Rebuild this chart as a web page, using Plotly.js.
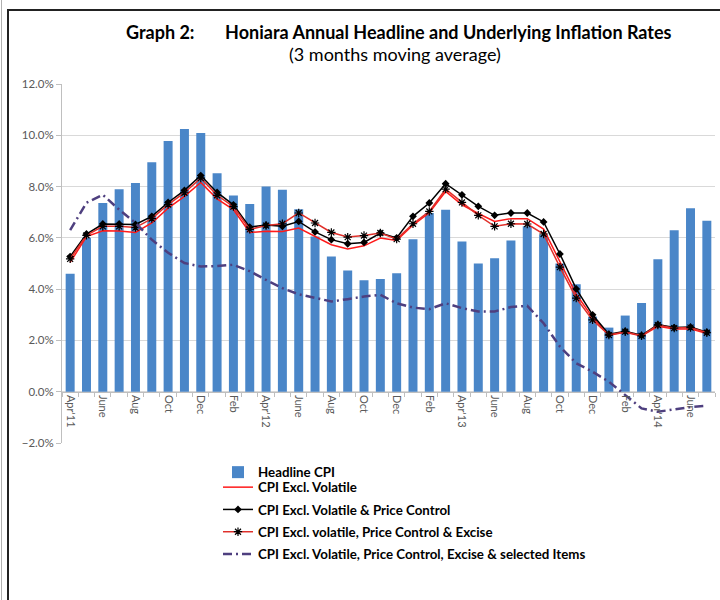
<!DOCTYPE html>
<html><head><meta charset="utf-8">
<script src="https://cdn.plot.ly/plotly-3.0.1.min.js"></script>
<style>
html,body{margin:0;padding:0;background:#fff;}
#wrap{position:relative;width:720px;height:600px;overflow:hidden;}
#chart{position:absolute;left:0;top:0;width:720px;height:600px;}
#b1{position:absolute;left:1px;top:0;width:1px;height:600px;background:#b0b0b0;pointer-events:none;}
#b2{position:absolute;left:7px;top:9px;width:713px;height:591px;border-left:2px solid #222;border-top:2px solid #222;pointer-events:none;}
</style></head><body>
<div id="wrap"><div id="chart"></div><div id="b1"></div><div id="b2"></div></div>
<script>
const months = ["Apr'11","May'11","Jun'11","Jul'11","Aug'11","Sep'11","Oct'11","Nov'11","Dec'11","Jan'12","Feb'12","Mar'12","Apr'12","May'12","Jun'12","Jul'12","Aug'12","Sep'12","Oct'12","Nov'12","Dec'12","Jan'13","Feb'13","Mar'13","Apr'13","May'13","Jun'13","Jul'13","Aug'13","Sep'13","Oct'13","Nov'13","Dec'13","Jan'14","Feb'14","Mar'14","Apr'14","May'14","Jun'14","Jul'14"];
const tickLabels = ["Apr'11","","June","","Aug","","Oct","","Dec","","Feb","","Apr'12","","June","","Aug","","Oct","","Dec","","Feb","","Apr'13","","June","","Aug","","Oct","","Dec","","Feb","","Apr'14","","June",""];

const headlineCPI = [4.6,6.0,7.36,7.9,8.14,8.95,9.78,10.25,10.09,8.52,7.65,7.32,8.0,7.88,7.12,6.05,5.27,4.73,4.35,4.4,4.62,5.95,6.97,7.1,5.86,5.0,5.2,5.9,6.45,6.12,5.0,4.19,2.93,2.5,2.97,3.46,5.17,6.3,7.15,6.67];
const exclVolatile = [5.04,6.05,6.28,6.27,6.21,6.58,7.16,7.62,8.16,7.52,7.1,6.21,6.26,6.25,6.38,6.05,5.73,5.57,5.69,5.99,5.9,6.5,6.98,7.81,7.29,6.95,6.64,6.75,6.75,6.34,5.05,3.8,2.9,2.2,2.32,2.17,2.55,2.45,2.45,2.27];
const exclVolPC = [5.27,6.15,6.54,6.54,6.52,6.84,7.38,7.85,8.43,7.77,7.29,6.42,6.5,6.45,6.64,6.23,5.93,5.77,5.82,6.19,6.0,6.84,7.36,8.11,7.68,7.23,6.88,6.97,6.97,6.62,5.37,4.01,3.0,2.24,2.36,2.2,2.62,2.5,2.52,2.32];
const exclVolPCExcise = [5.18,6.1,6.45,6.45,6.4,6.75,7.3,7.76,8.33,7.66,7.22,6.33,6.48,6.55,6.97,6.58,6.21,6.03,6.09,6.19,5.95,6.55,7.03,7.9,7.38,6.88,6.45,6.55,6.54,6.15,4.86,3.65,2.8,2.21,2.34,2.18,2.6,2.48,2.5,2.3];
const exclSelected = [6.3,7.37,7.68,7.1,6.58,5.93,5.42,5.02,4.88,4.9,4.95,4.7,4.36,4.04,3.8,3.65,3.52,3.61,3.71,3.78,3.45,3.28,3.22,3.45,3.26,3.13,3.13,3.3,3.35,2.67,1.76,1.11,0.78,0.39,-0.13,-0.65,-0.78,-0.7,-0.6,-0.55];

const FONT = 'Lato, "Noto Sans", sans-serif';
const legFont = {family: FONT, size: 13.3, color: '#000', weight: 'bold'};
// pixel helpers for paper coords (plot area: x 62..715, y 84..443)
const L = 62, T = 84, W = 653, H = 359;
const px = v => (v - L) / W;
const py = v => (T + H - v) / H;

const traces = [
  {type:'bar', x: months, y: headlineCPI, name:'Headline CPI', marker:{color:'#4a86c8'}, legend:'legend'},
  {type:'scatter', mode:'lines', x: months, y: exclVolatile, name:'CPI Excl. Volatile', line:{color:'#ff1a1a', width:1.5}, legend:'legend2', legendgroup:'a'},
  {type:'scatter', mode:'lines+markers', x: months, y: exclVolPC, name:'CPI Excl. Volatile & Price Control', line:{color:'#000', width:1.5}, marker:{symbol:'diamond', size:6, color:'#000'}, legend:'legend2', legendgroup:'b'},
  {type:'scatter', mode:'lines+markers', x: months, y: exclVolPCExcise, name:'CPI Excl. volatile, Price Control & Excise', line:{color:'#e0302a', width:1.5}, marker:{symbol:'asterisk-open', size:7, color:'#000', line:{color:'#000', width:1.2}}, legend:'legend2', legendgroup:'c'},
  {type:'scatter', mode:'lines', x: months, y: exclSelected, name:'CPI Excl. Volatile, Price Control, Excise & selected Items', line:{color:'#4e3f7f', width:2.5, dash:'9px,4px,2px,4px'}, legend:'legend2', legendgroup:'d'}
];

const layout = {
  width:720, height:600,
  margin:{l:L, r:720-L-W, t:T, b:600-T-H, autoexpand:false},
  paper_bgcolor:'#fff', plot_bgcolor:'#fff',
  font:{family: FONT},
  bargap:0.45,
  showlegend:true,
  xaxis:{type:'category', range:[-0.5, months.length-0.5], anchor:'free', position:2/14, automargin:false, showline:true, linecolor:'#bfbfbf', linewidth:1,
    ticks:'outside', ticklen:4, tickcolor:'#bfbfbf', tickson:'boundaries', tickangle:90,
    tickmode:'array', tickvals: months, ticktext: tickLabels,
    tickfont:{family: FONT, size:11, color:'#595959'}, showgrid:false},
  yaxis:{range:[-2,12], dtick:2, tick0:0, ticksuffix:'%', tickformat:'.1f', automargin:false, showgrid:true, gridcolor:'#d9d9d9', gridwidth:1,
    showline:true, linecolor:'#bfbfbf', ticks:'outside', ticklen:5, tickcolor:'#bfbfbf', zeroline:false,
    tickfont:{family: FONT, size:11.5, color:'#595959'}},
  legend:{x:px(218), y:py(457), xanchor:'left', yanchor:'top', font:legFont, bgcolor:'rgba(0,0,0,0)', itemwidth:30},
  legend2:{x:px(218), y:py(472), xanchor:'left', yanchor:'top', font:legFont, bgcolor:'rgba(0,0,0,0)', itemwidth:30, tracegroupgap:2},
  annotations:[
    {xref:'paper', yref:'paper', x:px(399), y:py(32), xanchor:'center', yanchor:'middle', showarrow:false,
     text:'<b>Graph 2:&nbsp;&nbsp;&nbsp;&nbsp;&nbsp;&nbsp;&nbsp;Honiara Annual Headline and Underlying Inflation Rates</b>', font:{family: FONT, size:18, color:'#000'}},
    {xref:'paper', yref:'paper', x:px(395), y:py(54), xanchor:'center', yanchor:'middle', showarrow:false,
     text:'(3 months moving average)', font:{family: FONT, size:18, color:'#000'}}
  ]
};

Plotly.newPlot('chart', traces, layout, {staticPlot:true, displayModeBar:false});
</script>
</body></html>
